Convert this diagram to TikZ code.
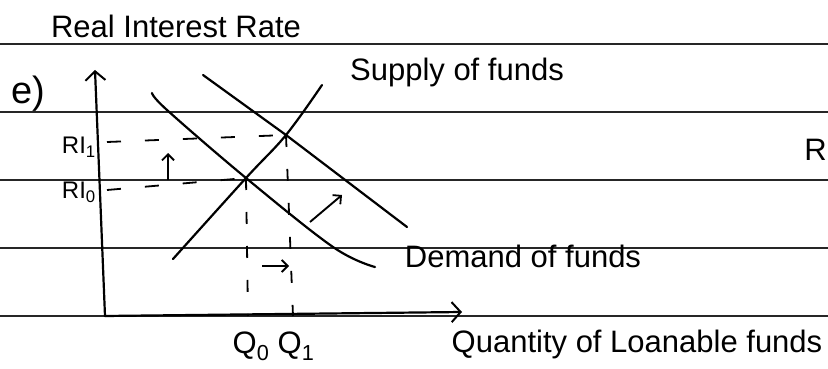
\documentclass[tikz,border=0pt]{standalone}
\usepackage{fontspec}
\setmainfont{Liberation Sans}
\usetikzlibrary{arrows.meta, positioning}

\tikzset{
  ruled/.style={line width=1.3pt, black!85},
  stroke/.style={line width=2.2pt, line cap=round, line join=round},
  guide/.style={line width=1.8pt, dash pattern=on 14pt off 24pt},
  vguide/.style={line width=1.8pt, dash pattern=on 12pt off 22pt},
  barb/.style={-{Straight Barb[length=9pt, width=20pt, line width=2pt]}},
  shiftarrow/.style={line width=1.9pt, -{Straight Barb[length=6pt, width=12pt, line width=1.8pt]}},
  hand/.style={inner sep=0pt, font=\fontsize{31}{35}\selectfont},
  big hand/.style={inner sep=0pt, font=\fontsize{38}{42}\selectfont},
  small hand/.style={inner sep=0pt, font=\fontsize{24}{28}\selectfont},
}

\begin{document}
\begin{tikzpicture}[x=1pt, y=-1pt]
  \clip (0,0) rectangle (828,369);
  \fill[white] (0,0) rectangle (828,369);

  % ruled paper
  \foreach \yy in {44,112,180,248,316}
    \draw[ruled] (0,\yy) -- (828,\yy);

  % axes
  \coordinate (O)    at (105,316);
  \coordinate (Ytip) at (95,70);
  \coordinate (Xtip) at (462,312);
  \draw[stroke, barb] (O) -- (Ytip);
  \draw[stroke, barb] (O) -- (Xtip);

  % equilibrium points
  \coordinate (E0) at (246,178);
  \coordinate (E1) at (286,135);

  % supply of funds
  \draw[stroke] plot[smooth, tension=0.6] coordinates
    {(173,259) (E0) (E1) (322,85)};

  % demand of funds, before and after
  \draw[stroke] plot[smooth, tension=0.6] coordinates
    {(152,93) (167,110) (E0) (333,247) (375,267)};
  \draw[stroke] (203,75) -- (E1) -- (407,227);

  % guides to the axes
  \coordinate (RI1a) at (107,142);
  \coordinate (RI0a) at (107,190);
  \coordinate (Q0a)  at (248,316);
  \coordinate (Q1a)  at (293,316);
  \draw[guide]  (RI1a) -- (E1);
  \draw[guide]  (RI0a) -- (E0);
  \draw[vguide] (E0) -- (Q0a);
  \draw[vguide] (E1) -- (Q1a);

  % shifts
  \coordinate (UpA) at (168,180);
  \coordinate (UpB) at (168,153);
  \coordinate (DgA) at (310,222);
  \coordinate (DgB) at (342,195);
  \coordinate (RtA) at (262,266);
  \coordinate (RtB) at (289,266);
  \draw[shiftarrow] (UpA) -- (UpB);
  \draw[shiftarrow] (DgA) -- (DgB);
  \draw[shiftarrow] (RtA) -- (RtB);

  % labels
  \node[hand] (ylab)   at (176,26)  {Real Interest Rate};
  \node[big hand] (part) at (28,94) {e)};
  \node[hand] (slab)   at (457,72)  {Supply of funds};
  \node[hand] (dlab)   at (523,256) {Demand of funds};
  \node[hand] (xlab)   at (637,344) {Quantity of Loanable funds};
  \node[small hand, anchor=east] (ri1) at (96,147) {RI\textsubscript{1}};
  \node[small hand, anchor=east] (ri0) at (96,192) {RI\textsubscript{0}};
  \node[hand] (q0)     at (251,346) {Q\textsubscript{0}};
  \node[hand] (q1)     at (296,346) {Q\textsubscript{1}};
  \node[hand, anchor=east] (rcut) at (827,150) {R};
\end{tikzpicture}
\end{document}
